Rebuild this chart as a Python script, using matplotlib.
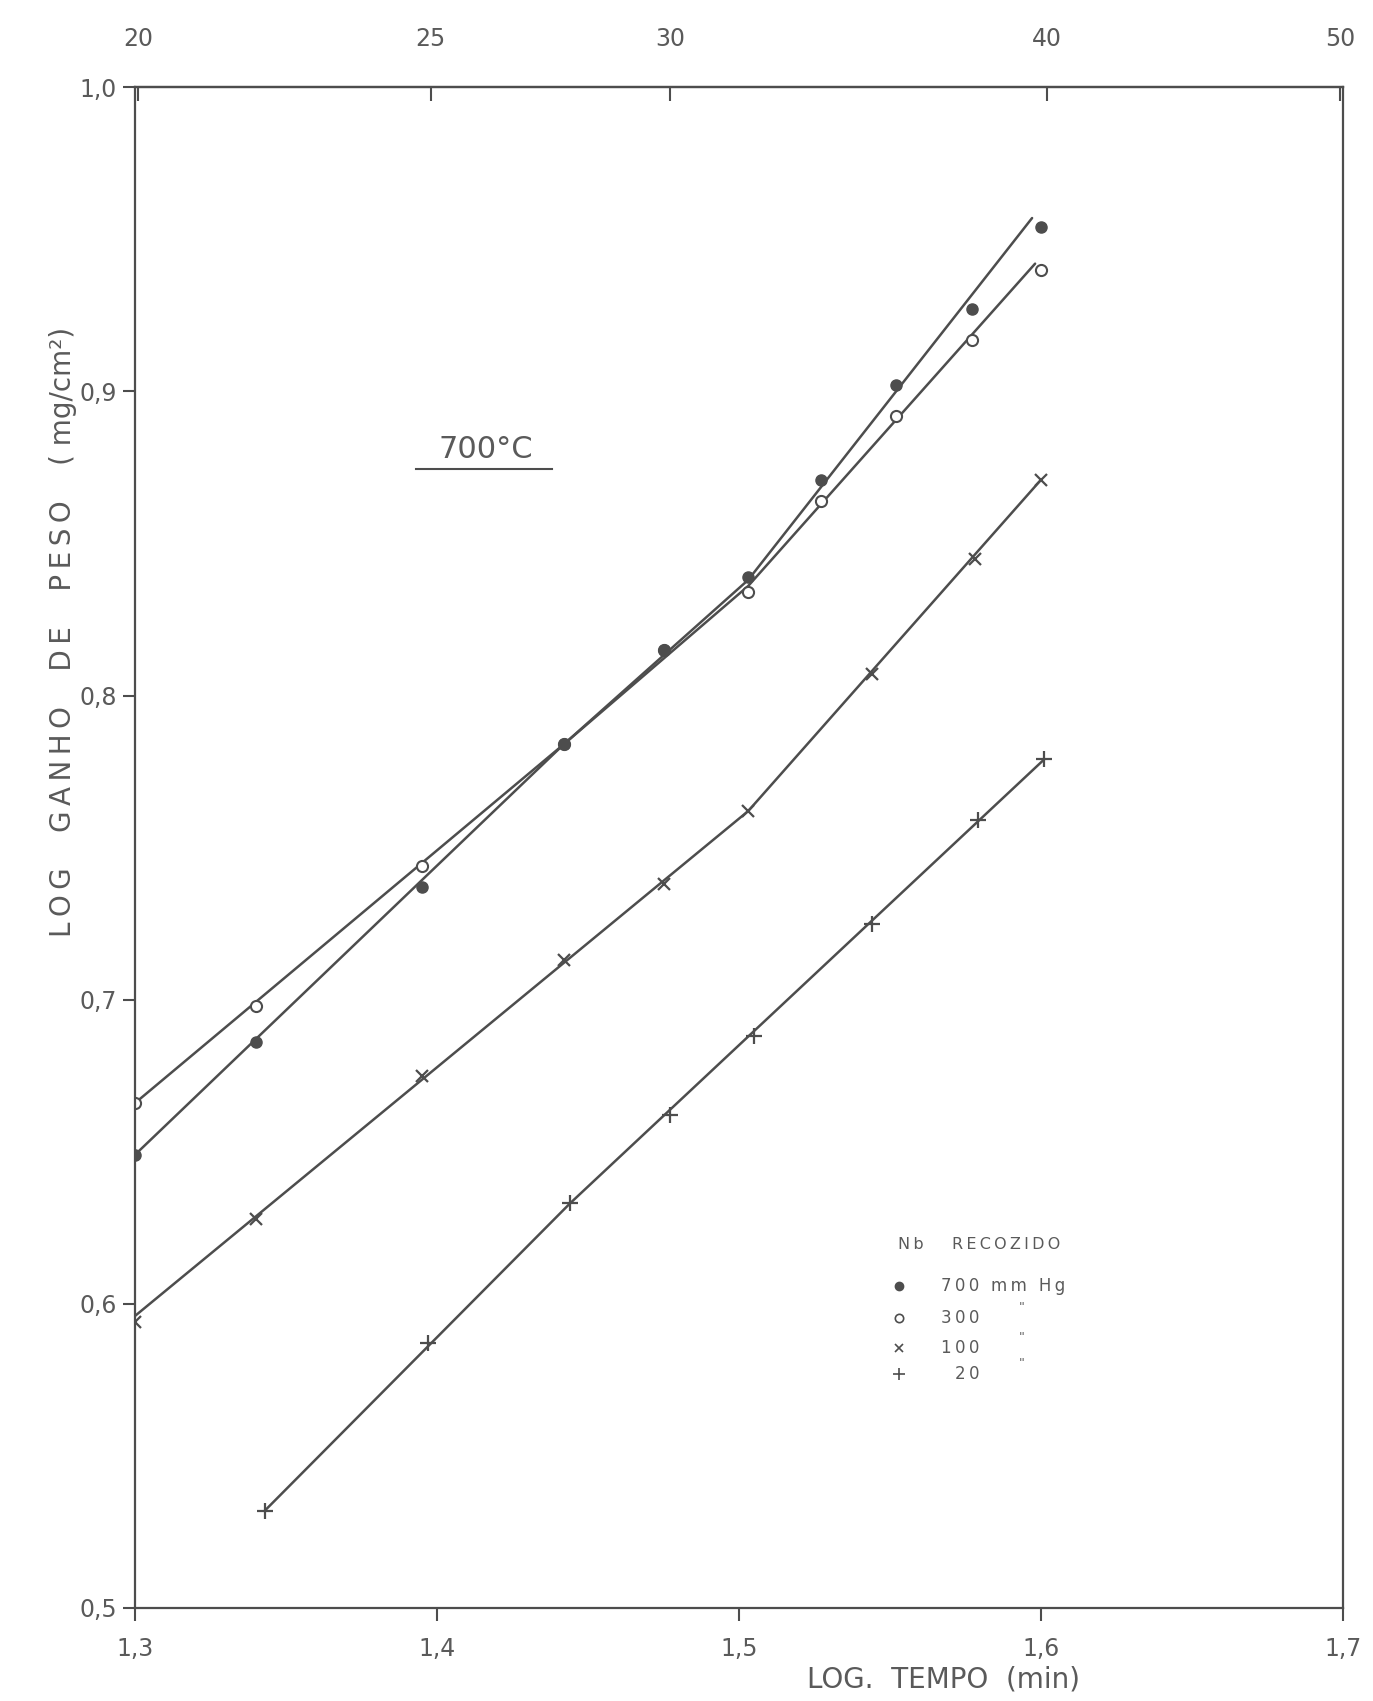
import numpy as np
import matplotlib
matplotlib.use('Agg')
import matplotlib.pyplot as plt

# log time (min) and log weight gain (mg/cm2)
x_700 = [1.300, 1.340, 1.395, 1.442, 1.475, 1.503, 1.527, 1.552, 1.577, 1.600]
y_700 = [0.649, 0.686, 0.737, 0.784, 0.815, 0.839, 0.871, 0.902, 0.927, 0.954]

x_300 = [1.300, 1.340, 1.395, 1.442, 1.475, 1.503, 1.527, 1.552, 1.577, 1.600]
y_300 = [0.666, 0.698, 0.744, 0.784, 0.815, 0.834, 0.864, 0.892, 0.917, 0.940]

x_100 = [1.300, 1.340, 1.395, 1.442, 1.475, 1.503, 1.544, 1.578, 1.600]
y_100 = [0.594, 0.628, 0.675, 0.713, 0.738, 0.762, 0.807, 0.845, 0.871]

x_20 = [1.343, 1.397, 1.444, 1.477, 1.505, 1.544, 1.579, 1.601]
y_20 = [0.532, 0.587, 0.633, 0.662, 0.688, 0.725, 0.759, 0.779]

# hand-drawn fitted lines (break points)
fit_x_700 = [1.300, 1.442, 1.503, 1.597]
fit_y_700 = [0.649, 0.784, 0.838, 0.957]
fit_x_300 = [1.300, 1.442, 1.503, 1.598]
fit_y_300 = [0.666, 0.784, 0.836, 0.942]
fit_x_100 = [1.300, 1.503, 1.600]
fit_y_100 = [0.596, 0.762, 0.871]
fit_x_20 = [1.343, 1.444, 1.601]
fit_y_20 = [0.532, 0.633, 0.779]

x_ticks = [1.3, 1.4, 1.5, 1.6, 1.7]
x_ticklabels = ['1,3', '1,4', '1,5', '1,6', '1,7']
y_ticks = [0.5, 0.6, 0.7, 0.8, 0.9, 1.0]
y_ticklabels = ['0,5', '0,6', '0,7', '0,8', '0,9', '1,0']
top_ticks = [20, 25, 30, 40, 50]
top_ticklabels = ['20', '25', '30', '40', '50']

legend_title = 'Nb   RECOZIDO'
legend_pressures = ['700', '300', '100', '20']
legend_units = ['mm Hg', '"', '"', '"']

ink = '#4d4d4d'
txt = '#5a5a5a'


def spaced(s):
    # letter-spaced lettering, like the stencil text of the original
    return '\u2009'.join(s)


fig = plt.figure(figsize=(13.73, 17.01), dpi=100)
ax = fig.add_axes([0.0983, 0.0547, 0.880, 0.894])

# lines
for fx, fy in [(fit_x_700, fit_y_700), (fit_x_300, fit_y_300),
               (fit_x_100, fit_y_100), (fit_x_20, fit_y_20)]:
    ax.plot(fx, fy, '-', color=ink, linewidth=1.8, solid_capstyle='round')

# markers
ax.plot(x_300, y_300, 'o', markerfacecolor='white', markeredgecolor=ink,
        markeredgewidth=1.5, markersize=8, linestyle='none')
ax.plot(x_700, y_700, 'o', color=ink, markersize=8, linestyle='none')
ax.plot(x_100, y_100, 'x', color=ink, markeredgewidth=1.6, markersize=9, linestyle='none')
ax.plot(x_20, y_20, '+', color=ink, markeredgewidth=1.6, markersize=11, linestyle='none')

ax.set_xlim(1.3, 1.7)
ax.set_ylim(0.5, 1.0)
ax.set_xticks(x_ticks, labels=x_ticklabels)
ax.set_yticks(y_ticks, labels=y_ticklabels)
ax.tick_params(axis='x', direction='out', length=9, width=1.5, color=ink,
               labelsize=17, labelcolor=txt, pad=12)
ax.tick_params(axis='y', direction='out', length=9, width=1.5, color=ink,
               labelsize=17, labelcolor=txt, pad=4)
for s in ax.spines.values():
    s.set_color(ink)
    s.set_linewidth(1.6)

# top axis in minutes
secax = ax.secondary_xaxis('top', functions=(lambda v: 10 ** v, np.log10))
secax.set_xticks(top_ticks, labels=top_ticklabels)
secax.tick_params(direction='in', length=10, width=1.5, color=ink,
                  labelsize=17, labelcolor=txt, pad=26)
secax.spines['top'].set_color(ink)
secax.spines['top'].set_linewidth(1.6)

# temperature label
ax.text(1.416, 0.881, '700°C', ha='center', va='center', fontsize=22, color=txt)
ax.plot([1.393, 1.438], [0.8745, 0.8745], color=ink, linewidth=1.5)

# hand-made legend
ax.text(1.5527, 0.6196, spaced(legend_title), ha='left', va='center', fontsize=11.5, color=txt)
legend_rows_y = [0.6058, 0.5953, 0.5855, 0.5770]
ax.plot(1.553, legend_rows_y[0], 'o', color=ink, markersize=6)
ax.plot(1.553, legend_rows_y[1], 'o', markerfacecolor='white', markeredgecolor=ink,
        markeredgewidth=1.2, markersize=6)
ax.plot(1.553, legend_rows_y[2], 'x', color=ink, markeredgewidth=1.2, markersize=6)
ax.plot(1.553, legend_rows_y[3], '+', color=ink, markeredgewidth=1.2, markersize=8)
for yy, p, u in zip(legend_rows_y, legend_pressures, legend_units):
    ax.text(1.5795, yy, spaced(p), ha='right', va='center', fontsize=12, color=txt)
    if u == '"':
        ax.text(1.5935, yy + 0.0035, u, ha='center', va='center', fontsize=9, color=txt)
    else:
        ax.text(1.5835, yy, spaced(u), ha='left', va='center', fontsize=12, color=txt)

# axis titles
fig.text(0.6875, 0.0129, 'LOG.  TEMPO  (min)', ha='center', va='center',
         fontsize=20, color=txt)
ylab = '    '.join(spaced(w) for w in ['LOG', 'GANHO', 'DE', 'PESO']) + '    ( mg/cm²)'
fig.text(0.0460, 0.6285, ylab, ha='center', va='center', rotation=90,
         fontsize=20, color=txt)

fig.savefig('out.png', dpi=100)
plt.close(fig)
